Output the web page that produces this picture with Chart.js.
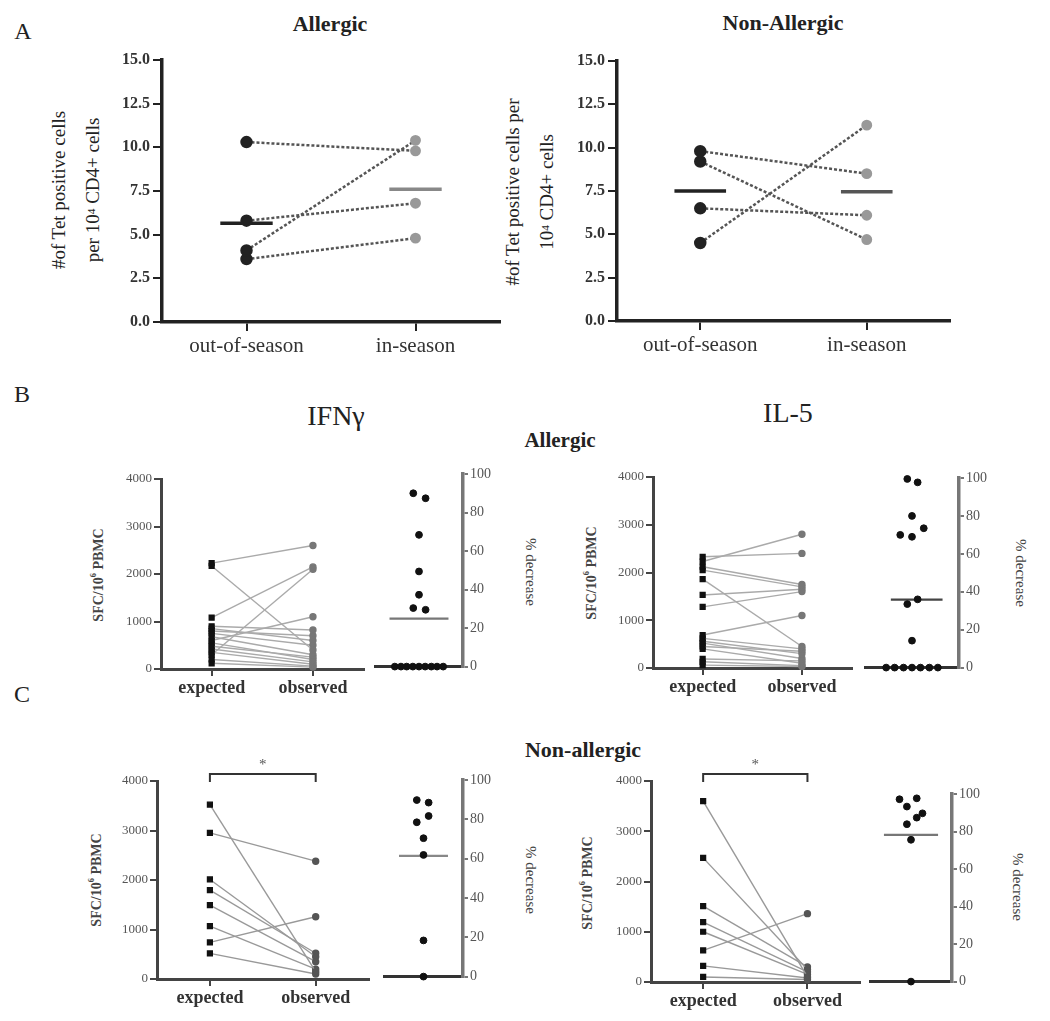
<!DOCTYPE html>
<html><head><meta charset="utf-8">
<script src="https://cdn.jsdelivr.net/npm/chart.js@4.4.1/dist/chart.umd.min.js"></script>
<style>
body{margin:0;background:#fff;width:1050px;height:1021px;position:relative;overflow:hidden;font-family:"Liberation Serif","DejaVu Serif",serif;color:#222}
canvas{position:absolute}
.t{position:absolute;transform:translate(-50%,-50%);white-space:nowrap;line-height:1}
.r{position:absolute;white-space:nowrap;text-align:center}
sup{font-size:60%;vertical-align:top;position:relative;top:-0.2em}
</style></head><body>
<div class="t" style="left:23px;top:31px;font-size:24px">A</div>
<div class="t" style="left:330px;top:24px;font-size:22px;font-weight:bold">Allergic</div>
<div class="t" style="left:783px;top:23px;font-size:22px;font-weight:bold">Non-Allergic</div>
<div class="r" style="left:76px;top:190px;font-size:19px;line-height:34px;transform:translate(-50%,-50%) rotate(-90deg)">#of Tet positive cells<br>per 10<sup>4</sup> CD4+ cells</div>
<div class="r" style="left:530px;top:192px;font-size:19px;line-height:34px;transform:translate(-50%,-50%) rotate(-90deg)">#of Tet positive cells per<br>10<sup>4</sup> CD4+ cells</div>
<div class="t" style="left:22px;top:394px;font-size:24px">B</div>
<div class="t" style="left:336px;top:416px;font-size:28px">IFNγ</div>
<div class="t" style="left:788px;top:413px;font-size:28px">IL-5</div>
<div class="t" style="left:560px;top:440px;font-size:21px;font-weight:bold">Allergic</div>
<div class="t" style="left:22px;top:694px;font-size:24px">C</div>
<div class="t" style="left:583px;top:750px;font-size:22px;font-weight:bold">Non-allergic</div>
<div class="r" style="left:99px;top:575px;font-size:14px;font-weight:bold;color:#444;transform:translate(-50%,-50%) rotate(-90deg)">SFC/10<sup>6</sup> PBMC</div>
<div class="r" style="left:592px;top:573px;font-size:14px;font-weight:bold;color:#444;transform:translate(-50%,-50%) rotate(-90deg)">SFC/10<sup>6</sup> PBMC</div>
<div class="r" style="left:97px;top:880px;font-size:14px;font-weight:bold;color:#444;transform:translate(-50%,-50%) rotate(-90deg)">SFC/10<sup>6</sup> PBMC</div>
<div class="r" style="left:588px;top:883px;font-size:14px;font-weight:bold;color:#444;transform:translate(-50%,-50%) rotate(-90deg)">SFC/10<sup>6</sup> PBMC</div>
<div class="r" style="left:530px;top:572px;font-size:15px;color:#444;transform:translate(-50%,-50%) rotate(90deg)">% decrease</div>
<div class="r" style="left:1020px;top:573px;font-size:15px;color:#444;transform:translate(-50%,-50%) rotate(90deg)">% decrease</div>
<div class="r" style="left:530px;top:880px;font-size:15px;color:#444;transform:translate(-50%,-50%) rotate(90deg)">% decrease</div>
<div class="r" style="left:1017px;top:887px;font-size:15px;color:#444;transform:translate(-50%,-50%) rotate(90deg)">% decrease</div>
<script>
// ---------------- DATA ----------------
const seasonCats = ['out-of-season', 'in-season'];
const tetTicks = [0, 2.5, 5, 7.5, 10, 12.5, 15];
const allergicOut = [10.3, 5.8, 4.1, 3.6];
const allergicIn  = [9.8, 6.8, 10.4, 4.8];
const allergicMeans = [5.65, 7.6];
const nonAllergicOut = [9.8, 9.2, 6.5, 4.5];
const nonAllergicIn  = [8.5, 4.7, 6.1, 11.3];
const nonAllergicMeans = [7.5, 7.45];

const spotCats = ['expected', 'observed'];
const sfcTicks = [0, 1000, 2000, 3000, 4000];
const pctTicks = [0, 20, 40, 60, 80, 100];

const ifngAllergicExp = [2230, 2170, 1080, 900, 850, 800, 750, 680, 600, 550, 480, 420, 350, 300, 200, 120];
const ifngAllergicObs = [2600, 400, 2150, 820, 600, 700, 500, 300, 1100, 200, 250, 150, 100, 2100, 60, 40];
const ifngAllergicDec = [90, 87.4, 68.4, 49.4, 37.3, 30.4, 29.5, 0, 0, 0, 0, 0, 0, 0, 0, 0];
const ifngAllergicJit = [-0.13, 0.15, 0, 0, 0, -0.13, 0.15, -0.55, -0.41, -0.28, -0.14, 0, 0.14, 0.28, 0.41, 0.55];
const ifngAllergicMean = 24.9;

const il5AllergicExp = [2330, 2230, 2120, 2050, 1860, 1530, 1280, 690, 620, 560, 520, 450, 400, 190, 130, 60];
const il5AllergicObs = [2400, 2800, 1750, 1700, 450, 1650, 1600, 1100, 400, 300, 200, 350, 100, 150, 50, 30];
const il5AllergicDec = [99.5, 97.7, 80, 73.5, 70, 69, 36, 33.5, 14.2, 0, 0, 0, 0, 0, 0, 0];
const il5AllergicJit = [-0.1, 0.12, 0, 0.25, -0.25, 0, 0.12, -0.1, 0, -0.55, -0.37, -0.18, 0, 0.18, 0.37, 0.55];
const il5AllergicMean = 35.8;

const ifngNonExp = [3524, 2951, 2011, 1795, 1493, 1069, 740, 518];
const ifngNonObs = [150, 2380, 450, 520, 350, 200, 1257, 100];
const ifngNonDec = [89.8, 88.5, 81.7, 78.5, 70.4, 61.9, 18.4, 0];
const ifngNonJit = [-0.17, 0.13, 0.13, -0.17, 0, 0, 0, 0];
const ifngNonMean = 61.4;

const il5NonExp = [3600, 2470, 1510, 1190, 1000, 630, 320, 100];
const il5NonObs = [100, 250, 300, 200, 150, 1360, 80, 50];
const il5NonDec = [97.2, 97.7, 93.3, 89.7, 87.4, 83.9, 75.6, 0];
const il5NonJit = [-0.28, 0.14, -0.1, 0.28, 0.14, -0.1, 0, 0];
const il5NonMean = 78.2;

// ---------------- HELPERS ----------------
const SERIF = "'Liberation Serif', 'DejaVu Serif', serif";
Chart.defaults.font.family = SERIF;
Chart.defaults.animation = false;
const charts = [];

function mkCanvas(x, y, w, h) {
  const c = document.createElement('canvas');
  c.width = w; c.height = h;
  c.style.left = x + 'px'; c.style.top = y + 'px';
  c.style.width = w + 'px'; c.style.height = h + 'px';
  document.body.appendChild(c);
  return c;
}

const bracketPlugin = {
  id: 'bracket',
  afterDraw(chart, args, opts) {
    if (!opts || !opts.show) return;
    const {ctx, chartArea, scales: {x}} = chart;
    const x0 = x.getPixelForValue(0), x1 = x.getPixelForValue(1);
    const yb = chartArea.top - 7;
    ctx.save();
    ctx.strokeStyle = '#333'; ctx.lineWidth = 2;
    ctx.beginPath();
    ctx.moveTo(x0, chartArea.top + 1); ctx.lineTo(x0, yb); ctx.lineTo(x1, yb); ctx.lineTo(x1, chartArea.top + 1);
    ctx.stroke();
    ctx.fillStyle = '#555'; ctx.font = "15px 'Liberation Serif', serif";
    ctx.textAlign = 'center'; ctx.textBaseline = 'middle';
    ctx.fillText(opts.label, (x0 + x1) / 2, yb - 9);
    ctx.restore();
  }
};

function axisOpts(color, width, tickLen) {
  return {
    grid: {drawOnChartArea: false, drawTicks: true, tickLength: tickLen, color: color, lineWidth: 2},
    border: {display: true, color: color, width: width}
  };
}

function pairedChart(box, o) {
  const cx = box.L - o.yw, cy = box.T - o.top;
  const cw = o.yw + (box.R - box.L) + o.right, ch = o.top + (box.B - box.T) + o.xh;
  const c = mkCanvas(cx, cy, cw, ch);
  const ax = axisOpts(o.axisColor, o.axisW, o.tickLen);
  charts.push(new Chart(c, {
    type: 'line',
    data: {datasets: o.datasets},
    options: {
      responsive: false, animation: false,
      layout: {padding: {left: 0, top: o.top, right: o.right, bottom: 0}},
      plugins: {legend: {display: false}, tooltip: {enabled: false}, bracket: o.bracket || {show: false}},
      scales: {
        x: Object.assign({
          type: 'linear', min: -0.5, max: 1.5,
          afterFit: s => { s.height = o.xh; },
          afterBuildTicks: s => { s.ticks = o.cats.map((c, i) => ({value: i})); },
          ticks: {callback: v => o.cats[v], font: o.xFont, color: o.xColor, padding: o.xPad, maxRotation: 0, autoSkip: false}
        }, ax),
        y: Object.assign({
          type: 'linear', min: o.yTicks[0], max: o.yTicks[o.yTicks.length - 1],
          afterFit: s => { s.width = o.yw; },
          afterBuildTicks: s => { s.ticks = o.yTicks.map(v => ({value: v})); },
          ticks: {callback: o.yFmt, font: o.yFont, color: o.yColor, padding: o.yPad}
        }, ax)
      }
    },
    plugins: [bracketPlugin]
  }));
}

function dotChart(box, o) {
  const cx = box.L - o.left, cy = box.T - o.top;
  const cw = o.left + (box.R - box.L) + o.yw, ch = o.top + (box.B - box.T) + o.xh;
  const c = mkCanvas(cx, cy, cw, ch);
  const pts = o.values.map((v, i) => ({x: o.jitter[i], y: v}));
  charts.push(new Chart(c, {
    type: 'scatter',
    data: {datasets: [
      {data: pts, pointRadius: 3.4, pointBackgroundColor: '#111', pointBorderColor: '#111', pointStyle: 'circle', clip: false, showLine: false},
      {data: [{x: o.meanSpan[0], y: o.mean}, {x: o.meanSpan[1], y: o.mean}], showLine: true, borderColor: o.meanColor, borderWidth: 2.2, pointRadius: 0}
    ]},
    options: {
      responsive: false, animation: false,
      layout: {padding: {left: o.left, top: o.top, right: 0, bottom: 0}},
      plugins: {legend: {display: false}, tooltip: {enabled: false}},
      scales: {
        x: {type: 'linear', min: -1, max: 1, afterFit: s => { s.height = o.xh; },
            ticks: {display: false}, grid: {display: false},
            border: {display: true, color: '#333', width: 3}},
        y: Object.assign({
          type: 'linear', position: 'right', min: 0, max: 100,
          afterFit: s => { s.width = o.yw; },
          afterBuildTicks: s => { s.ticks = pctTicks.map(v => ({value: v})); },
          ticks: {font: {family: SERIF, size: 14}, color: '#555', padding: 2}
        }, axisOpts('#777', 3.5, 5))
      }
    }
  }));
}

function seasonDatasets(out, inn, means, meanColors) {
  const ds = out.map((v, i) => ({
    data: [{x: 0, y: v}, {x: 1, y: inn[i]}],
    borderColor: '#555', borderWidth: 2.5, borderDash: [3, 2],
    pointRadius: [5, 4.2], pointBackgroundColor: ['#222', '#999'], pointBorderColor: ['#222', '#999'],
    clip: false
  }));
  const half = 0.155;
  ds.push({data: [{x: -half, y: means[0]}, {x: half, y: means[0]}], borderColor: meanColors[0], borderWidth: 3.5, pointRadius: 0});
  ds.push({data: [{x: 1 - half, y: means[1]}, {x: 1 + half, y: means[1]}], borderColor: meanColors[1], borderWidth: 3.5, pointRadius: 0});
  return ds;
}

function spotDatasets(exp, obs, lineColor, obsColor) {
  return exp.map((e, i) => ({
    data: [{x: 0, y: e}, {x: 1, y: obs[i]}],
    borderColor: lineColor, borderWidth: 1.4,
    pointRadius: [3.4, 3], pointStyle: ['rect', 'circle'],
    pointBackgroundColor: ['#111', obsColor], pointBorderColor: ['#111', obsColor],
    clip: false
  }));
}

function buildAll() {
  // ---------------- PANEL A ----------------
  const aCommon = {
    cats: seasonCats, yTicks: tetTicks, yFmt: v => v.toFixed(1),
    xFont: {family: SERIF, size: 21}, xColor: '#333', xPad: 3,
    yFont: {family: SERIF, size: 16, weight: 'bold'}, yColor: '#333', yPad: 3,
    axisColor: '#222', axisW: 3.5, tickLen: 9
  };
  pairedChart({L: 162, R: 500, T: 60, B: 322}, Object.assign({}, aCommon, {
    yw: 62, top: 20, right: 15, xh: 58,
    datasets: seasonDatasets(allergicOut, allergicIn, allergicMeans, ['#222', '#888'])
  }));
  pairedChart({L: 617, R: 950, T: 61, B: 321}, Object.assign({}, aCommon, {
    yw: 57, top: 20, right: 15, xh: 58,
    datasets: seasonDatasets(nonAllergicOut, nonAllergicIn, nonAllergicMeans, ['#222', '#555'])
  }));

  // ---------------- PANELS B & C ----------------
  const sCommon = {
    cats: spotCats, yTicks: sfcTicks, yFmt: v => String(v),
    xFont: {family: SERIF, size: 18, weight: 'bold'}, xColor: '#333', xPad: 2,
    yFont: {family: SERIF, size: 13}, yColor: '#555', yPad: 2,
    axisColor: '#444', axisW: 3, tickLen: 7
  };
  pairedChart({L: 161, R: 364, T: 479, B: 669}, Object.assign({}, sCommon, {
    yw: 51, top: 20, right: 5, xh: 35,
    datasets: spotDatasets(ifngAllergicExp, ifngAllergicObs, '#aaa', '#777')
  }));
  dotChart({L: 373, R: 463, T: 474, B: 667}, {left: 3, top: 15, yw: 45, xh: 10,
    values: ifngAllergicDec, jitter: ifngAllergicJit, mean: ifngAllergicMean, meanSpan: [-0.67, 0.67], meanColor: '#777'});

  pairedChart({L: 653, R: 852, T: 477, B: 668}, Object.assign({}, sCommon, {
    yw: 53, top: 20, right: 5, xh: 35,
    datasets: spotDatasets(il5AllergicExp, il5AllergicObs, '#aaa', '#777')
  }));
  dotChart({L: 863, R: 959, T: 478, B: 668}, {left: 3, top: 15, yw: 45, xh: 10,
    values: il5AllergicDec, jitter: il5AllergicJit, mean: il5AllergicMean, meanSpan: [-0.45, 0.65], meanColor: '#444'});

  pairedChart({L: 157, R: 369, T: 781, B: 979}, Object.assign({}, sCommon, {
    yw: 52, top: 40, right: 5, xh: 38,
    bracket: {show: true, label: '*'},
    datasets: spotDatasets(ifngNonExp, ifngNonObs, '#999', '#555')
  }));
  dotChart({L: 382, R: 463, T: 780, B: 977}, {left: 3, top: 15, yw: 45, xh: 10,
    values: ifngNonDec, jitter: ifngNonJit, mean: ifngNonMean, meanSpan: [-0.62, 0.62], meanColor: '#888'});

  pairedChart({L: 651, R: 860, T: 781, B: 982}, Object.assign({}, sCommon, {
    yw: 53, top: 40, right: 5, xh: 38,
    bracket: {show: true, label: '*'},
    datasets: spotDatasets(il5NonExp, il5NonObs, '#999', '#555')
  }));
  dotChart({L: 868, R: 952, T: 794, B: 982}, {left: 3, top: 15, yw: 45, xh: 10,
    values: il5NonDec, jitter: il5NonJit, mean: il5NonMean, meanSpan: [-0.66, 0.66], meanColor: '#777'});
}

buildAll();
// re-render once the serif font is ready for canvas text
const redraw = () => charts.forEach(ch => ch.update('none'));
if (document.fonts) {
  Promise.all([
    document.fonts.load("16px 'Liberation Serif'"),
    document.fonts.load("bold 16px 'Liberation Serif'")
  ]).then(redraw).catch(() => {});
  document.fonts.ready.then(redraw);
}
window.addEventListener('load', redraw);
</script>
</body></html>
